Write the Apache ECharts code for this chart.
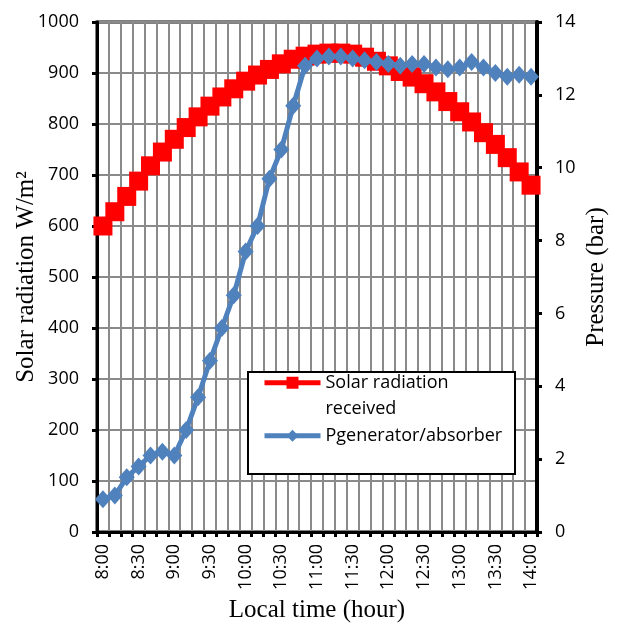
<!DOCTYPE html>
<html>
<head>
<meta charset="utf-8">
<title>Solar radiation and generator pressure</title>
<script src="https://cdn.jsdelivr.net/npm/echarts@6/dist/echarts.min.js"></script>
<style>
  html, body { margin: 0; padding: 0; background: #fff; }
  #chart { width: 617px; height: 634px; }
</style>
</head>
<body>
<div id="chart"></div>
<script>
// Local time, every 10 minutes
const timeLabels = ['8:00','8:10','8:20','8:30','8:40','8:50','9:00','9:10','9:20','9:30','9:40','9:50',
  '10:00','10:10','10:20','10:30','10:40','10:50','11:00','11:10','11:20','11:30','11:40','11:50',
  '12:00','12:10','12:20','12:30','12:40','12:50','13:00','13:10','13:20','13:30','13:40','13:50','14:00'];

// Solar radiation received (W/m2)
const solarRadiation = [600,628,658,688,718,745,770,793,814,835,853,869,
  884,896,907,918,927,933,937,939,939,937,931,923,
  914,903,892,879,863,844,824,804,783,760,734,706,680];

// Generator/absorber pressure (bar)
const pressure = [0.9,1.0,1.5,1.8,2.1,2.2,2.1,2.8,3.7,4.7,5.6,6.5,
  7.7,8.4,9.7,10.5,11.7,12.8,13.0,13.05,13.05,13.0,12.95,12.9,
  12.85,12.8,12.85,12.85,12.75,12.7,12.75,12.9,12.75,12.6,12.5,12.55,12.5];

const solarName = 'Solar radiation received';
const pressureName = 'Pgenerator/absorber';

const sans = 'Open Sans';
const serif = 'Liberation Serif';
const gridGray = '#8a8a8a';

const plainNumber = function (v) { return String(v); };

const chart = echarts.init(document.getElementById('chart'));

chart.setOption({
  animation: false,
  backgroundColor: '#fff',
  grid: {
    left: 97, right: 80, top: 22, bottom: 102,
    outerBoundsMode: 'none',
    containLabel: false,
    show: true, borderColor: '#000', borderWidth: 3
  },
  xAxis: {
    type: 'category',
    data: timeLabels,
    boundaryGap: true,
    name: 'Local time (hour)',
    nameLocation: 'middle',
    nameGap: 62,
    nameTextStyle: { fontFamily: serif, fontSize: 25, color: '#000' },
    axisLine: { lineStyle: { color: '#000', width: 3 } },
    axisTick: { show: true, interval: 0, length: 5, lineStyle: { color: '#000', width: 3 } },
    axisLabel: { interval: 2, rotate: 90, margin: 12, fontFamily: sans, fontSize: 18, color: '#000' },
    splitLine: { show: true, interval: 0, lineStyle: { color: gridGray, width: 2 } }
  },
  yAxis: [
    {
      type: 'value',
      min: 0, max: 1000, interval: 100,
      name: 'Solar radiation W/m²',
      nameLocation: 'middle',
      nameRotate: 90,
      nameGap: 58,
      nameMoveOverlap: false,
      nameTextStyle: { fontFamily: serif, fontSize: 25, color: '#000' },
      axisLine: { show: true, lineStyle: { color: '#000', width: 3 } },
      axisTick: { show: true, length: 5, lineStyle: { color: '#000', width: 3 } },
      axisLabel: { margin: 18, fontFamily: sans, fontSize: 18, color: '#000', formatter: plainNumber },
      splitLine: { show: true, lineStyle: { color: gridGray, width: 2 } }
    },
    {
      type: 'value',
      min: 0, max: 14, interval: 2,
      position: 'right',
      name: 'Pressure (bar)',
      nameLocation: 'middle',
      nameRotate: 90,
      nameGap: 47,
      nameMoveOverlap: false,
      nameTextStyle: { fontFamily: serif, fontSize: 25, color: '#000' },
      axisLine: { show: true, lineStyle: { color: '#000', width: 4 } },
      axisTick: { show: true, length: 5, lineStyle: { color: '#000', width: 3 } },
      axisLabel: { margin: 18, fontFamily: sans, fontSize: 18, color: '#000', formatter: plainNumber },
      splitLine: { show: false }
    }
  ],
  legend: {
    orient: 'vertical',
    left: 262,
    top: 343,
    padding: 0,
    itemGap: 0,
    itemWidth: 56,
    itemHeight: 15,
    z: 20,
    data: [solarName, pressureName],
    lineStyle: { width: 5 },
    textStyle: { fontFamily: sans, fontSize: 18, lineHeight: 26.5, color: '#000' },
    // keep the legend icon level with the first line of the wrapped name
    formatter: function (name) {
      return name === solarName ? ' \nSolar radiation\nreceived' : name;
    }
  },
  graphic: [
    {
      type: 'rect',
      z: 10,
      shape: { x: 248, y: 372, width: 267, height: 102 },
      style: { fill: '#fff', stroke: '#000', lineWidth: 2 }
    }
  ],
  series: [
    {
      name: solarName,
      type: 'line',
      yAxisIndex: 0,
      data: solarRadiation,
      symbol: 'rect',
      symbolSize: 19,
      showAllSymbol: true,
      color: '#ff0000',
      itemStyle: { color: '#ff0000' },
      lineStyle: { color: '#ff0000', width: 4 },
      z: 2
    },
    {
      name: pressureName,
      type: 'line',
      yAxisIndex: 1,
      data: pressure,
      symbol: 'diamond',
      symbolSize: [16, 18],
      showAllSymbol: true,
      color: '#4f81bd',
      itemStyle: { color: '#4f81bd' },
      lineStyle: { color: '#4f81bd', width: 5 },
      z: 3
    }
  ]
});
</script>
</body>
</html>
